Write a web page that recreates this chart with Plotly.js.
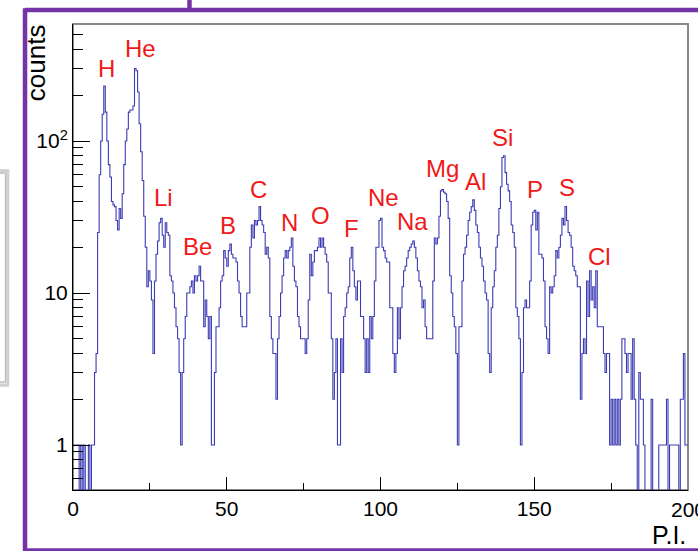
<!DOCTYPE html>
<html><head><meta charset="utf-8">
<script src="https://cdn.plot.ly/plotly-3.0.1.min.js"></script>
<style>html,body{margin:0;padding:0;background:#fff;overflow:hidden}#chart{width:698px;height:551px}</style>
</head><body><div id="chart"></div>
<script>
// ---- data: histogram counts, bins of 0.5 P.I. ----
const binWidth = 0.5;
const countsPI000to050 = [1,1,1,1,0,1,0,1,0,0, 1,0,1,1,3,4,25,60,100,150, 230,155,100,70,58,40,38,37,30,26, 36,31,45,70,100,120,155,160,160,170, 300,290,210,130,85,55,32,20,11,14,
  12,9,4,12,18,22,29,31,24,20, 29,25,24,13,12,10,8,6,5,3, 1,3,5,7,10,10,11,12,10,13, 12,13,15,12,12,6,9,7,5,7, 1,1,3,6,6,8,12,13,19,17];
const countsPI050to100 = [15,19,21,18,17,17,16,12,10,7, 6,6,6,10,10,20,28,23,30,28, 30,37,30,28,25,18,20,17,7,5, 4,4,2,5,7,10,13,17,19,17, 19,20,23,15,12,11,7,6,5,5,
  5,4,5,9,18,13,16,19,19,20, 23,20,23,20,18,16,10,10,5,2, 3,5,1,1,5,3,7,8,10,11, 17,20,14,11,9,12,12,7,7,5, 3,5,3,7,5,7,12,20,20,30];
const countsPI100to150 = [31,20,19,17,16,16,8,8,4,3, 4,8,5,8,11,14,15,17,19,20, 21,22,20,17,14,12,11,8,9,6, 5,5,5,5,12,23,21,23,32,47, 48,46,45,40,31,13,10,7,6,4,
  1,6,6,12,18,20,24,30,34,37, 41,35,28,25,20,17,15,12,10,9, 4,3,8,11,14,20,24,36,50,78, 80,62,52,47,40,28,25,20,8,7, 5,1,3,8,9,8,8,12,28,34];
const countsPI150to200 = [35,26,34,18,18,17,12,6,5,4, 11,10,11,13,19,17,20,24,31,28, 37,30,25,24,20,15,14,13,11,11, 2,4,5,4,12,7,14,9,11,8, 14,6,6,6,6,4,3,4,4,1,
  2,1,2,1,2,1,2,5,5,4, 3,4,4,2,5,2,1,0,3,2, 2,1,0,0,0,0,2,0,0,0, 0,1,1,1,1,1,2,0,1,1, 1,1,1,1,0,2,2,4,1,1];
const elementNames = ['H','He','Li','Be','B','C','N','O','F','Ne','Na','Mg','Al','Si','P','S','Cl'];
const xTickVals = [0,50,100,150,200];
const xTickText = ['0','50','100','150','200'];
const xMinorVals = [25,75,125,175];
const yTickVals = [1,10,100];
const yTickText = ['1','10','10<sup>2</sup>'];
const yMinorVals = [0.6,0.7,0.8,0.9,2,3,4,5,6,7,8,9,20,30,40,50,60,70,80,90,200,300,400,500];

// ---- build step outline ----
const counts = [].concat(countsPI000to050, countsPI050to100, countsPI100to150, countsPI150to200);
const xs = counts.map((_, i) => i * binWidth);
const ys = counts.map(c => c > 0 ? c : 0.05);   // empty bins drop below the frame
xs.push(counts.length * binWidth); ys.push(ys[ys.length - 1]);

// label placement (P.I., log10 counts)
const labelSpots = [[10.9,2.477],[21.9,2.612],[29.4,1.628],[40.6,1.309],[50.3,1.447],[60.4,1.684],[70.5,1.467],[80.5,1.507],[90.6,1.425],[101.0,1.628],[110.5,1.470],[120.1,1.819],[130.8,1.737],[139.8,2.02],[150.3,1.681],[160.6,1.697],[171.3,1.243]];

const FONT = 'Liberation Sans, Arial, Helvetica, sans-serif';
const purple = '#7434a8';

const annotations = elementNames.map((n, i) => ({
  text: n, x: labelSpots[i][0], y: labelSpots[i][1], xref: 'x', yref: 'y',
  showarrow: false, xanchor: 'center', yanchor: 'middle',
  font: {family: FONT, size: 24, color: '#f01818'}
}));
annotations.push({text: 'counts', xref: 'paper', yref: 'paper', x: -0.06, y: 1.003, xanchor: 'center', yanchor: 'top',
  textangle: -90, showarrow: false, font: {family: FONT, size: 26, color: '#000'}});
annotations.push({text: 'P.I.', xref: 'paper', yref: 'paper', x: 1.0, y: -0.062, xanchor: 'right', yanchor: 'top',
  showarrow: false, font: {family: FONT, size: 25, color: '#000'}});
// right-most x tick label, which sits past the page edge
annotations.push({text: xTickText[4], xref: 'x', yref: 'paper', x: xTickVals[4], y: -0.012, xanchor: 'center', yanchor: 'top',
  showarrow: false, font: {family: FONT, size: 21, color: '#000'}});

const shapes = [
  {type: 'rect', xref: 'paper', yref: 'paper', x0: 0, x1: 1, y0: 0, y1: 1, line: {color: '#8a8a8a', width: 2}, layer: 'below'},
  // slide frame
  {type: 'line', xref: 'paper', yref: 'paper', x0: -0.078, x1: 1.05, y0: 1.030, y1: 1.030, line: {color: purple, width: 4.5}},
  {type: 'line', xref: 'paper', yref: 'paper', x0: -0.078, x1: -0.078, y0: 1.034, y1: -0.15, line: {color: purple, width: 4.5}},
  {type: 'line', xref: 'paper', yref: 'paper', x0: -0.078, x1: 1.05, y0: -0.1300, y1: -0.1300, line: {color: purple, width: 4.5}},
  {type: 'line', xref: 'paper', yref: 'paper', x0: 0.1894, x1: 0.1894, y0: 1.03, y1: 1.07, line: {color: purple, width: 4.5}},
  // side box shadow
  {type: 'rect', xref: 'paper', yref: 'paper', x0: -0.14, x1: -0.106, y0: 0.225, y1: 0.685, fillcolor: '#e6e6e6', line: {color: '#d0d0d0', width: 3}},
  {type: 'rect', xref: 'paper', yref: 'paper', x0: -0.14, x1: -0.11, y0: 0.232, y1: 0.680, fillcolor: '#ffffff', line: {color: '#b0b0b0', width: 1}}
];

const trace = {x: xs, y: ys, type: 'scatter', mode: 'lines', line: {shape: 'hv', color: '#3c3cb4', width: 1.1}, hoverinfo: 'skip'};

const layout = {
  width: 698, height: 551,
  margin: {l: 73, r: 10, t: 24, b: 61, pad: 0},
  paper_bgcolor: '#fff', plot_bgcolor: '#fff', showlegend: false,
  font: {family: FONT, color: '#000'},
  xaxis: {range: [0, 200], tickmode: 'array', tickvals: xTickVals.slice(0, 4), ticktext: xTickText.slice(0, 4),
    ticks: 'inside', ticklen: 13, tickwidth: 1, tickcolor: '#000',
    minor: {tickmode: 'array', tickvals: xMinorVals, ticks: 'inside', ticklen: 7, tickcolor: '#000', showgrid: false},
    showgrid: false, zeroline: false, showline: true, linecolor: '#000', linewidth: 1,
    tickfont: {family: FONT, size: 21, color: '#000'}, automargin: false},
  yaxis: {type: 'log', range: [-0.296, 2.770], tickmode: 'array', tickvals: yTickVals, ticktext: yTickText,
    ticks: 'inside', ticklen: 17, tickwidth: 1, tickcolor: '#000',
    minor: {tickmode: 'array', tickvals: yMinorVals, ticks: 'inside', ticklen: 10, tickcolor: '#000', showgrid: false},
    showgrid: false, zeroline: false, showline: true, linecolor: '#000', linewidth: 1,
    tickfont: {family: FONT, size: 21, color: '#000'}, automargin: false},
  annotations: annotations, shapes: shapes
};

Plotly.newPlot('chart', [trace], layout, {staticPlot: true, displayModeBar: false});
</script></body></html>
